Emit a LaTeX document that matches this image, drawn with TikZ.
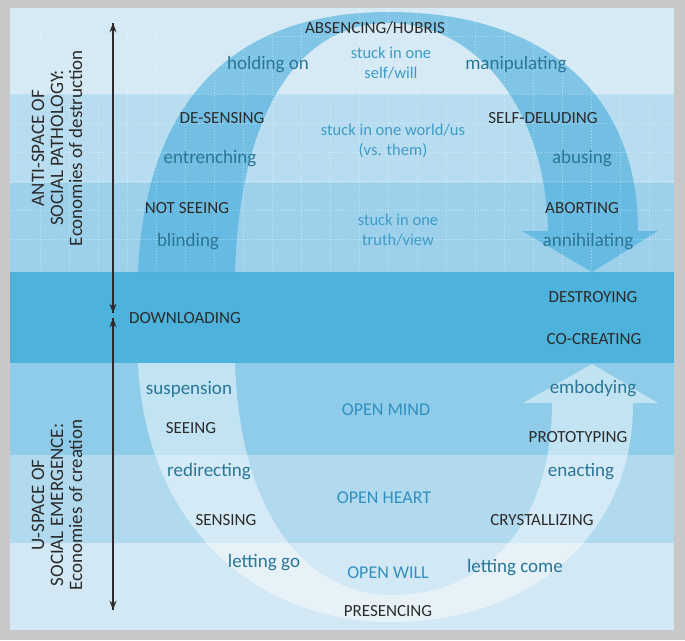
\documentclass[tikz,border=0pt]{standalone}
\usepackage{fontspec}
\setmainfont{Carlito}
\usetikzlibrary{arrows.meta}

\definecolor{framegrey}{HTML}{C8C8C8}
\definecolor{bandA}{HTML}{D6EAF5}
\definecolor{bandB}{HTML}{B8DDF0}
\definecolor{bandC}{HTML}{9DD1EB}
\definecolor{bandD}{HTML}{4DB2DC}
\definecolor{bandE}{HTML}{8FCCE9}
\definecolor{bandF}{HTML}{B1DAEF}
\definecolor{bandG}{HTML}{D2E8F4}
\definecolor{archblue}{HTML}{3BA8DB}
\definecolor{capgrey}{HTML}{2B2B2B}
\definecolor{verbblue}{HTML}{2A7696}
\definecolor{stuckblue}{HTML}{3D9CC6}
\definecolor{openblue}{HTML}{3090C0}

\begin{document}
\begin{tikzpicture}[
  x=1pt, y=-1pt,
  >=Stealth,
  caps/.style={font=\fontsize{17}{18}\selectfont, text=capgrey, inner sep=0pt},
  verb/.style={font=\fontsize{19}{20}\selectfont, text=verbblue, inner sep=0pt},
  stuck/.style={font=\fontsize{16.5}{20}\selectfont, text=stuckblue, align=center, inner sep=0pt},
  open/.style={font=\fontsize{18}{20}\selectfont, text=openblue, inner sep=0pt},
  side/.style={font=\fontsize{19}{19}\selectfont, text=capgrey, align=center, rotate=90, inner sep=0pt},
  gridline/.style={white, opacity=0.4, line width=0.6pt, dash pattern=on 1pt off 2pt},
  arch/.style={fill=archblue, fill opacity=0.55},
  ushape/.style={fill=white, fill opacity=0.45},
  axisarr/.style={->, line width=1.4pt, capgrey},
]
  \useasboundingbox (0,0) rectangle (685,640);

  % ===================== BACKGROUND BANDS =====================
  \fill[framegrey] (0,0) rectangle (685,640);
  \fill[bandA] (9.5,8)   rectangle (674,94);
  \fill[bandB] (9.5,94)  rectangle (674,183);
  \fill[bandC] (9.5,183) rectangle (674,272);
  \fill[bandD] (9.5,272) rectangle (674,363);
  \fill[bandE] (9.5,363) rectangle (674,455);
  \fill[bandF] (9.5,455) rectangle (674,543);
  \fill[bandG] (9.5,543) rectangle (674,630);

  % ===================== ANTI-SPACE ARCH =====================
  \fill[arch] (138,272) .. controls (145,110) and (225,12) .. (389,12)
    .. controls (540,12) and (638,90) .. (638,231)
    -- (658,231) -- (592,272) -- (522,231) -- (548,231)
    .. controls (545,100) and (470,23) .. (389,23)
    .. controls (300,23) and (240,110) .. (235,272) -- cycle;

  % dotted grid over the upper half
  \foreach \gx in {40,69,...,649}
    \draw[gridline] (\gx,8) -- (\gx,272);
  \foreach \gy in {36,65,...,240}
    \draw[gridline] (9.5,\gy) -- (674,\gy);

  % ===================== U-SPACE =====================
  \fill[ushape] (138,363) .. controls (145,520) and (250,622) .. (392,622)
    .. controls (535,622) and (634,530) .. (633,403)
    -- (658,403) -- (592,364) -- (523,403) -- (552,403)
    .. controls (552,520) and (490,595) .. (392,595)
    .. controls (310,595) and (240,520) .. (235,363) -- cycle;

  % ===================== SIDE AXES =====================
  \coordinate (antitop) at (113,23);
  \coordinate (antibot) at (113,313);
  \coordinate (utop) at (113,318);
  \coordinate (ubot) at (113,610);
  \draw[axisarr] (antibot) -- (antitop);
  \draw[axisarr] (antitop) -- (antibot);
  \draw[axisarr] (ubot) -- (utop);
  \draw[axisarr] (utop) -- (ubot);

  \node[side] (antilbl) at (57,148)
    {ANTI-SPACE OF\\SOCIAL PATHOLOGY:\\Economies of destruction};
  \node[side] (ulbl) at (57,505)
    {U-SPACE OF\\SOCIAL EMERGENCE:\\Economies of creation};

  % ===================== LABELS: ARCH =====================
  \node[caps]  (absencing) at (375,28)  {ABSENCING/HUBRIS};
  \node[verb]  (holding)   at (268,65)  {holding on};
  \node[stuck] (self)      at (391,63)  {stuck in one\\self/will};
  \node[verb]  (manip)     at (516,65)  {manipulating};

  \node[caps]  (desensing) at (222,118) {DE-SENSING};
  \node[verb]  (entrench)  at (210,159) {entrenching};
  \node[stuck] (world)     at (393,141) {stuck in one world/us\\(vs. them)};
  \node[caps]  (delude)    at (543,118) {SELF-DELUDING};
  \node[verb]  (abusing)   at (582,159) {abusing};

  \node[caps]  (notseeing) at (187,208) {NOT SEEING};
  \node[verb]  (blinding)  at (188,242) {blinding};
  \node[stuck] (truth)     at (398,230) {stuck in one\\truth/view};
  \node[caps]  (aborting)  at (582,208) {ABORTING};
  \node[verb]  (annihil)   at (588,242) {annihilating};

  % ===================== LABELS: MIDDLE =====================
  \node[caps] (download) at (185,318) {DOWNLOADING};
  \node[caps] (destroy)  at (593,297) {DESTROYING};
  \node[caps] (cocreate) at (594,339) {CO-CREATING};

  % ===================== LABELS: U =====================
  \node[verb] (suspend)  at (189,389) {suspension};
  \node[caps] (seeing)   at (191,428) {SEEING};
  \node[open] (openmind) at (386,410) {OPEN MIND};
  \node[verb] (embody)   at (593,389) {embodying};
  \node[caps] (proto)    at (578,437) {PROTOTYPING};

  \node[verb] (redirect) at (209,472) {redirecting};
  \node[open] (openheart) at (384,498) {OPEN HEART};
  \node[verb] (enact)    at (581,472) {enacting};
  \node[caps] (sensing)  at (226,520) {SENSING};
  \node[caps] (crystal)  at (542,520) {CRYSTALLIZING};

  \node[verb] (lettinggo)   at (264,563) {letting go};
  \node[open] (openwill)    at (388,573) {OPEN WILL};
  \node[verb] (lettingcome) at (515,568) {letting come};
  \node[caps] (presencing)  at (388,611) {PRESENCING};
\end{tikzpicture}
\end{document}
